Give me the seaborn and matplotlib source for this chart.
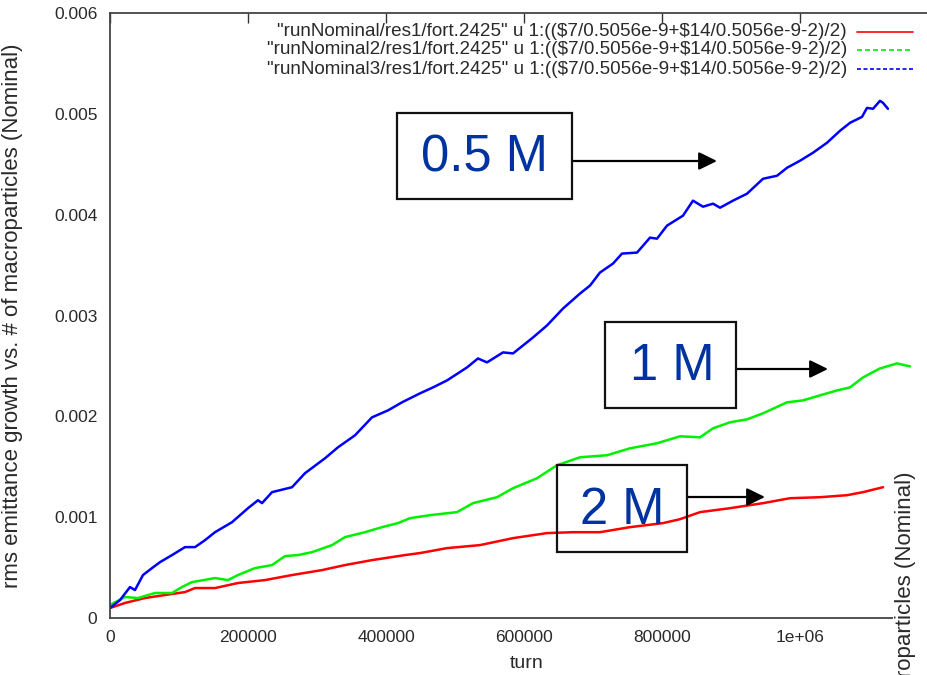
import matplotlib
matplotlib.use("Agg")
import matplotlib.pyplot as plt
import seaborn as sns
import pandas as pd
from matplotlib.lines import Line2D
from matplotlib.patches import Rectangle
from matplotlib.ticker import FixedLocator, FixedFormatter

# ---------------- data ----------------
red_turn = [0, 21700, 50700, 79700, 108700, 123200, 152200, 185500, 224600, 263800,
            307200, 340600, 379700, 427500, 449300, 488400, 536200, 584100, 633300,
            671000, 710100, 753600, 801400, 826100, 855100, 898600, 946400, 985500,
            1029000, 1068100, 1091300, 1120300]
red_val = [0.000099, 0.000149, 0.000198, 0.000228, 0.000257, 0.000297, 0.000297, 0.000347,
           0.000376, 0.000426, 0.000475, 0.000525, 0.000574, 0.000624, 0.000644, 0.000693,
           0.000723, 0.000792, 0.000842, 0.000851, 0.000851, 0.000901, 0.000941, 0.00098,
           0.00105, 0.001089, 0.001139, 0.001188, 0.001198, 0.001218, 0.001248, 0.001297]

green_turn = [0, 21700, 40600, 65200, 89900, 104300, 118800, 152200, 171000, 185500,
              210100, 234800, 253600, 272500, 292800, 321700, 340600, 369600, 394200,
              417400, 434800, 463800, 502900, 526100, 560900, 584100, 618800, 647800,
              681200, 720300, 753600, 792800, 826100, 855100, 873900, 898600, 923200,
              946400, 981200, 1004300, 1029000, 1053600, 1072500, 1091300, 1115900,
              1140600, 1159400]
green_val = [0.000129, 0.000208, 0.000198, 0.000248, 0.000248, 0.000307, 0.000356, 0.000396,
             0.000376, 0.000426, 0.000495, 0.000525, 0.000614, 0.000624, 0.000653, 0.000723,
             0.000802, 0.000851, 0.000901, 0.000941, 0.00099, 0.00102, 0.00105, 0.001139,
             0.001198, 0.001287, 0.001386, 0.001515, 0.001594, 0.001614, 0.001683, 0.001733,
             0.001802, 0.001792, 0.001881, 0.001941, 0.00197, 0.00203, 0.002139, 0.002158,
             0.002208, 0.002257, 0.002287, 0.002386, 0.002475, 0.002525, 0.002495]

blue_turn = [0, 14500, 29000, 36200, 47800, 60900, 72500, 89900, 108700, 123200, 137700,
             152200, 176800, 200000, 214500, 220300, 234800, 263800, 282600, 311600, 330400,
             355100, 379700, 402900, 423200, 449300, 468100, 488400, 517400, 533300, 546400,
             569600, 584100, 598600, 613000, 633300, 656500, 681200, 695700, 710100, 729000,
             742000, 763800, 782600, 792800, 807200, 830400, 844900, 859400, 873900, 884100,
             902900, 923200, 946400, 966700, 981200, 1000000, 1018800, 1039100, 1058000,
             1072500, 1089900, 1097100, 1105800, 1115900, 1120300, 1127500]
blue_val = [0.000099, 0.000178, 0.000307, 0.000277, 0.000426, 0.000495, 0.000554, 0.000624,
            0.000703, 0.000703, 0.000772, 0.000851, 0.00095, 0.001089, 0.001168, 0.001139,
            0.001248, 0.001297, 0.001436, 0.001584, 0.001693, 0.001812, 0.00199, 0.002059,
            0.002139, 0.002228, 0.002287, 0.002356, 0.002485, 0.002574, 0.002535, 0.002634,
            0.002624, 0.002703, 0.002782, 0.002901, 0.003069, 0.003218, 0.003297, 0.003426,
            0.003515, 0.003614, 0.003624, 0.003772, 0.003762, 0.003891, 0.00399, 0.004139,
            0.004079, 0.004109, 0.004069, 0.004139, 0.004208, 0.004356, 0.004386, 0.004465,
            0.004535, 0.004614, 0.004713, 0.004832, 0.004911, 0.00497, 0.005059, 0.00505,
            0.005129, 0.005109, 0.00505]

series_labels = [
    '"runNominal/res1/fort.2425" u 1:((\\$7/0.5056e-9+\\$14/0.5056e-9-2)/2)',
    '"runNominal2/res1/fort.2425" u 1:((\\$7/0.5056e-9+\\$14/0.5056e-9-2)/2)',
    '"runNominal3/res1/fort.2425" u 1:((\\$7/0.5056e-9+\\$14/0.5056e-9-2)/2)',
]
series_colors = ["#ff0000", "#00f000", "#0000ff"]
x_ticks = [0, 200000, 400000, 600000, 800000, 1000000]
x_tick_labels = ["0", "200000", "400000", "600000", "800000", "1e+06"]
y_ticks = [0, 0.001, 0.002, 0.003, 0.004, 0.005, 0.006]
y_tick_labels = ["0", "0.001", "0.002", "0.003", "0.004", "0.005", "0.006"]
x_label = "turn"
y_label = "rms emittance growth vs. # of macroparticles (Nominal)"
box_labels = ["0.5 M", "1 M", "2 M"]

# ---------------- styling ----------------
sns.set_theme(style="white")
plt.rcParams["font.family"] = ["Liberation Sans", "DejaVu Sans"]

W, H = 927, 675
fig = plt.figure(figsize=(W / 100, H / 100), dpi=100)
fig.patch.set_facecolor("white")

left, right, top, bottom = 110, 938, 13, 618
ax = fig.add_axes([left / W, 1 - bottom / H, (right - left) / W, (bottom - top) / H])
ax.set_facecolor("white")

frames = [
    pd.DataFrame({"turn": red_turn, "val": red_val}),
    pd.DataFrame({"turn": green_turn, "val": green_val}),
    pd.DataFrame({"turn": blue_turn, "val": blue_val}),
]
for df, col in zip(frames, series_colors):
    sns.lineplot(data=df, x="turn", y="val", color=col, lw=1.8, ax=ax,
                 estimator=None, sort=False, legend=False)

ax.set_xlim(0, 1200000)
ax.set_ylim(0, 0.006)
ax.xaxis.set_major_locator(FixedLocator(x_ticks))
ax.xaxis.set_major_formatter(FixedFormatter(x_tick_labels))
ax.yaxis.set_major_locator(FixedLocator(y_ticks))
ax.yaxis.set_major_formatter(FixedFormatter(y_tick_labels))
ax.set_xlabel("")
ax.set_ylabel("")
ax.tick_params(axis="both", direction="in", top=True, right=True, length=7, width=1.0,
               color="#333333", labelsize=12.5, labelcolor="#2a2a2a")
ax.tick_params(axis="y", pad=9)
ax.tick_params(axis="x", pad=9)
for s in ax.spines.values():
    s.set_visible(True)
    s.set_color("#444444")
    s.set_linewidth(1.3)

# axis titles
fig.text(12.5 / W, 1 - 316 / H, y_label, rotation=90, ha="center", va="center",
         fontsize=16, color="#2a2a2a")
fig.text(527 / W, 1 - 663 / H, x_label, ha="center", va="center", fontsize=14,
         color="#2a2a2a")

# key (gnuplot style: right-aligned text, then line sample)
key_rows_y = [32, 50, 69]
key_styles = ["-", (0, (3, 1.8)), (0, (2.4, 1.5))]
for lab, col, ls, yy in zip(series_labels, series_colors, key_styles, key_rows_y):
    fig.text(847 / W, 1 - yy / H, lab, ha="right", va="center", fontsize=13.6,
             color="#2a2a2a")
    fig.add_artist(Line2D([857 / W, 913 / W], [1 - yy / H, 1 - yy / H],
                          transform=fig.transFigure, color=col, lw=1.2, ls=ls))

# annotation boxes with arrows
txt_color = "#0033a0"
boxes = [  # (x0, y0, x1, y1) pixels, text centre, arrow (x0, x1, y)
    ((397, 113, 572, 199), (484, 158), (572, 717, 161)),
    ((605, 322, 736, 408), (672, 366), (736, 828, 369)),
    ((557, 465, 687, 552), (622, 510), (687, 765, 497)),
]
for lab, (rect, tc, arr) in zip(box_labels, boxes):
    x0, y0, x1, y1 = rect
    fig.add_artist(Rectangle((x0 / W, 1 - y1 / H), (x1 - x0) / W, (y1 - y0) / H,
                             transform=fig.transFigure, fill=False, ec="#111111",
                             lw=1.6, zorder=5))
    fig.text(tc[0] / W, 1 - tc[1] / H, lab, ha="center", va="center", fontsize=36.5,
             color=txt_color, zorder=6)
    ax.annotate("", xy=(arr[1], H - arr[2]), xytext=(arr[0], H - arr[2]),
                xycoords="figure pixels", textcoords="figure pixels",
                arrowprops=dict(arrowstyle="-|>,head_length=0.55,head_width=0.27",
                                mutation_scale=20, color="black", lw=1.6,
                                shrinkA=0, shrinkB=0),
                annotation_clip=False, zorder=6)

# overlapping neighbour picture at lower right (white area + its y label)
fig.add_artist(Rectangle((893 / W, 0), (W - 893) / W, (H - 440) / H,
                         transform=fig.transFigure, fc="white", ec="none", zorder=8))
fig.text(905 / W, 1 - 744 / H, y_label, rotation=90, ha="center", va="center",
         fontsize=16, color="#2a2a2a", zorder=9)

fig.savefig("out.png", dpi=100)
